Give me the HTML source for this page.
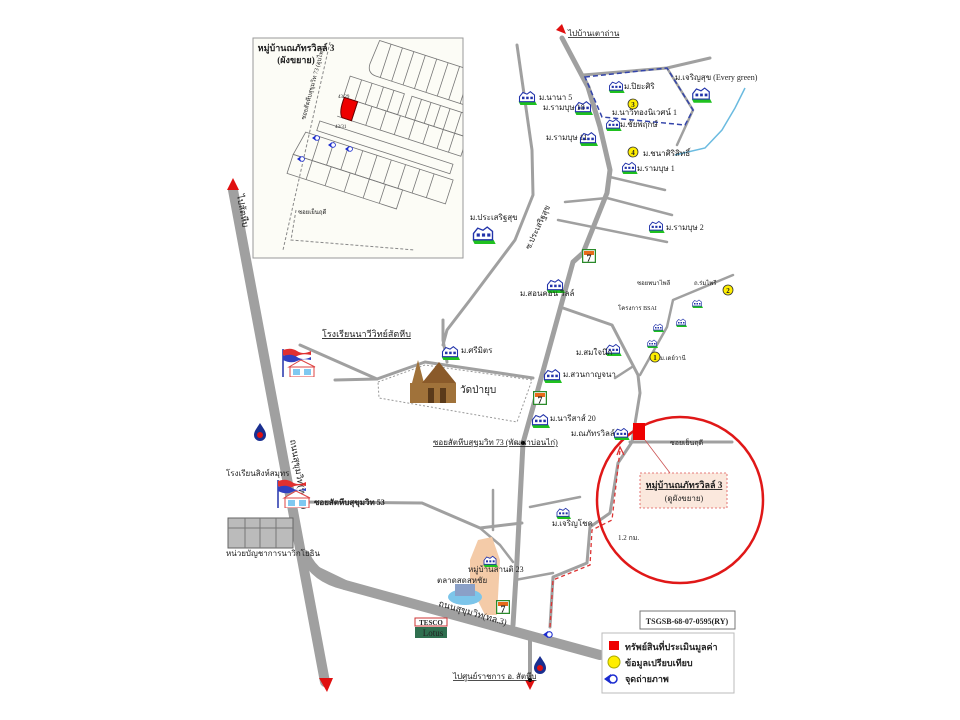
<!DOCTYPE html>
<html><head><meta charset="utf-8"><style>
html,body{margin:0;padding:0;background:#fff;width:960px;height:720px;overflow:hidden}
svg{display:block}
text{font-family:"Liberation Serif",serif;fill:#222}
</style></head><body>
<svg width="960" height="720" viewBox="0 0 960 720" xmlns="http://www.w3.org/2000/svg">
<defs>
<symbol id="h" viewBox="0 0 24 18">
<path d="M2 14 L22 14 L24 18 L4 18 Z" fill="#1fc11f"/>
<path d="M3 8 L7 3 L12 5 L16 2 L21 6 L21 14 L3 14 Z" fill="#fff" stroke="#2233aa" stroke-width="1.3"/>
<rect x="6" y="8" width="3" height="3" fill="#2233aa"/><rect x="11" y="8" width="3" height="3" fill="#2233aa"/><rect x="16" y="8" width="3" height="3" fill="#2233aa"/>
</symbol>
<symbol id="s7" viewBox="0 0 14 14">
<rect x="0.5" y="0.5" width="13" height="13" fill="#fff" stroke="#2a8a2a" stroke-width="1.5"/>
<rect x="2" y="2" width="10" height="4" fill="#e86a1a"/><text x="7" y="12.5" font-size="10" text-anchor="middle" fill="#d11" font-family="Liberation Sans" font-weight="bold">7</text>
</symbol>
<symbol id="cam" viewBox="0 0 14 10">
<path d="M0 5 L7 0 L7 10 Z" fill="#1a2bd0"/><circle cx="9" cy="5" r="4" fill="#fff" stroke="#1a2bd0" stroke-width="1.5"/>
</symbol>
<symbol id="gas" viewBox="0 0 12 18">
<path d="M6 0 C9 5 12 8 12 12 A6 6 0 0 1 0 12 C0 8 3 5 6 0 Z" fill="#1a2f90"/><circle cx="6" cy="12" r="3" fill="#e01010"/>
</symbol>
<symbol id="school" viewBox="0 0 36 30">
<line x1="2" y1="2" x2="2" y2="30" stroke="#2233aa" stroke-width="1.5"/>
<path d="M2 3 Q10 0 16 4 T30 4 L30 8 Q22 6 16 9 T2 8 Z" fill="#e03030"/>
<path d="M2 9 Q10 6 16 10 T30 10 L30 13 Q22 11 16 14 T2 13 Z" fill="#3040c0"/>
<path d="M8 20 L20 13 L34 20 Z" fill="#fff" stroke="#d44" stroke-width="1"/>
<rect x="9" y="20" width="24" height="10" fill="#fff" stroke="#d44"/>
<rect x="12" y="22" width="7" height="6" fill="#7fc8f0"/><rect x="23" y="22" width="7" height="6" fill="#7fc8f0"/>
</symbol>
</defs>

<g fill="none" stroke="#a0a0a0" stroke-linecap="round" stroke-linejoin="round">
<path d="M233 190 L325 682" stroke-width="10"/>
<path d="M305 555 Q315 578 345 585 L600 655" stroke-width="10"/>
<path d="M318 572 L345 585" stroke-width="10"/>
<path d="M562 38 L588 87 L600 127 L610 170 L607 193 L583 253 L573 262 L537 393 L523 443 L517 560 L513 625" stroke-width="5"/>
<path d="M530 640 L530 680" stroke-width="4"/>
<path d="M517 45 L532 150 L533 195 L515 240 L470 300 L447 330 L443 345" stroke-width="3"/>
<path d="M583 75 L667 68 L710 58" stroke-width="3"/>
<path d="M667 68 L693 110 L677 145" stroke-width="2.5"/>
<path d="M610 177 L665 190" stroke-width="2.5"/>
<path d="M565 202 L607 198 L672 215" stroke-width="2.5"/>
<path d="M558 220 L667 242" stroke-width="2.5"/>
<path d="M563 308 L612 325 L638 375 L640 393 L632 442 L618 463 L610 513 L590 527 L587 563 L553 577 L550 627" stroke-width="3"/>
<path d="M640 375 L667 327 L673 300 L733 275" stroke-width="2.5"/>
<path d="M615 378 L632 367" stroke-width="2.5"/>
<path d="M630 442 L732 442" stroke-width="3"/>
<path d="M335 380 L377 379 L425 362 L533 378" stroke-width="3"/>
<path d="M300 345 L377 379" stroke-width="3"/>
<path d="M443 320 L443 340 L447 362" stroke-width="3"/>
<path d="M300 502 L422 503 L480 528 L522 523" stroke-width="3"/>
<path d="M493 490 L493 530" stroke-width="2.5"/>
<path d="M480 528 L500 545 L513 562" stroke-width="2.5"/>
<path d="M515 580 L553 573" stroke-width="2.5"/>
<path d="M530 507 L580 497" stroke-width="2.5"/>
</g>
<path d="M585 77 L667 68 L693 110 L685 125 L602 117 Z" fill="none" stroke="#3344aa" stroke-width="1.5" stroke-dasharray="5 3"/>
<path d="M745 88 L735 108 L722 130 L705 148 L675 155" fill="none" stroke="#6bbbe0" stroke-width="1.5"/>
<path d="M378 382 L425 365 L532 380 L517 422 L379 398 Z" fill="none" stroke="#999" stroke-width="1" stroke-dasharray="2 2"/>
<path d="M478 540 L492 537 L500 560 L497 615 L485 615 L470 585 L470 560 Z" fill="#f4cba8"/>
<path d="M550 627 L553 580 L590 565 L592 530 L612 520 L620 450" fill="none" stroke="#d33" stroke-width="1.3" stroke-dasharray="4 3"/>
<path d="M617 455 L620 447 L624 455" fill="none" stroke="#d33" stroke-width="1.3"/>

<circle cx="680" cy="500" r="83" fill="none" stroke="#e01818" stroke-width="2.5"/>
<rect x="633" y="423" width="12" height="17" fill="#ee0000"/>
<line x1="645" y1="440" x2="670" y2="473" stroke="#c55" stroke-width="0.8"/>
<rect x="640" y="473" width="87" height="35" fill="#fbe8dd" stroke="#d55" stroke-width="0.8" stroke-dasharray="2 2"/>
<text x="684" y="488" font-size="9" text-anchor="middle" font-weight="bold" text-decoration="underline">หมู่บ้านณภัทรวิลล์ 3</text>
<text x="684" y="501" font-size="8" text-anchor="middle">(ดูผังขยาย)</text>

<path d="M227 190 L233 178 L239 190 Z" fill="#e01010"/>
<path d="M319 678 L327 692 L333 678 Z" fill="#e01010"/>
<path d="M556 30 L562 24 L566 34 Z" fill="#e01010"/>
<path d="M525 680 L530 690 L535 680 Z" fill="#e01010"/>
<circle cx="530" cy="680" r="2" fill="#000"/>
<circle cx="523" cy="443" r="2" fill="#000"/>

<use href="#h" x="517" y="90" width="20" height="15"/>
<use href="#h" x="573" y="100" width="20" height="15"/>
<use href="#h" x="578" y="131" width="20" height="15"/>
<use href="#h" x="607" y="80" width="18" height="13"/>
<use href="#h" x="604" y="118" width="18" height="13"/>
<use href="#h" x="690" y="86" width="22" height="17"/>
<use href="#h" x="620" y="161" width="18" height="13"/>
<use href="#h" x="647" y="220" width="18" height="13"/>
<use href="#h" x="470" y="225" width="26" height="19"/>
<use href="#h" x="545" y="278" width="20" height="15"/>
<use href="#h" x="604" y="343" width="18" height="13"/>
<use href="#h" x="542" y="368" width="20" height="15"/>
<use href="#h" x="530" y="413" width="20" height="15"/>
<use href="#h" x="612" y="427" width="18" height="13"/>
<use href="#h" x="440" y="345" width="20" height="15"/>
<use href="#h" x="555" y="507" width="16" height="12"/>
<use href="#h" x="482" y="555" width="16" height="12"/>
<use href="#h" x="652" y="323" width="12" height="9"/>
<use href="#h" x="675" y="318" width="12" height="9"/>
<use href="#h" x="691" y="299" width="12" height="9"/>
<use href="#h" x="646" y="339" width="12" height="9"/>

<g font-size="8">
<text x="539" y="100">ม.นานา 5</text>
<text x="543" y="110">ม.รามบุษ 18</text>
<text x="546" y="140">ม.รามบุษ 11</text>
<text x="624" y="89">ม.ปิยะศิริ</text>
<text x="612" y="115">ม.นาวีทองนิเวศน์ 1</text>
<text x="620" y="127">ม.ชัยพฤกษ์</text>
<text x="675" y="80">ม.เจริญสุข (Every green)</text>
<text x="643" y="156">ม.ชนาศิริสิทธิ์</text>
<text x="637" y="171">ม.รามบุษ 1</text>
<text x="666" y="230">ม.รามบุษ 2</text>
<text x="470" y="220">ม.ประเสริฐสุข</text>
<text x="520" y="296">ม.สอนคอน วิลล์</text>
<text x="576" y="355">ม.สมใจนึก</text>
<text x="563" y="377">ม.สวนกาญจนา</text>
<text x="550" y="421">ม.นารีสาส์ 20</text>
<text x="571" y="436">ม.ณภัทรวิลล์</text>
<text x="461" y="353">ม.ศรีมิตร</text>
<text x="552" y="526">ม.เจริญโชค</text>
<text x="468" y="572">หมู่บ้านสานติ 23</text>
<text x="460" y="393" font-size="10">วัดป่ายุบ</text>
<text x="433" y="445" text-decoration="underline">ซอยสัตหีบสุขุมวิท 73 (พัฒนาบ่อนไก่)</text>
<text x="568" y="36" text-decoration="underline">ไปบ้านเตาถ่าน</text>
<text x="322" y="337" font-size="9" text-decoration="underline">โรงเรียนนาวีวิทย์สัตหีบ</text>
<text x="226" y="476">โรงเรียนสิงห์สมุทร</text>
<text x="226" y="556">หน่วยบัญชาการนาวิกโยธิน</text>
<text x="314" y="505" font-weight="bold">ซอยสัตหีบสุขุมวิท 53</text>
<text x="437" y="583">ตลาดสดสหชัย</text>
<text x="453" y="679" text-decoration="underline">ไปศูนย์ราชการ อ. สัตหีบ</text>
<text x="618" y="540" fill="#c22" font-size="7">1.2 กม.</text>
<text x="670" y="445" font-size="7">ซอยเย็นฤดี</text>
<text x="637" y="285" font-size="6">ซอยพนาไพลี</text>
<text x="694" y="285" font-size="6">ถ.ร่มไพรี</text>
<text x="618" y="310" font-size="6">โครงการ BSAI</text>
<text x="660" y="360" font-size="6">ม.เดย์วานี</text>
<text x="438" y="606" font-size="9" transform="rotate(16 438 606)">ถนนสุขุมวิท(ทล.3)</text>
<text x="290" y="440" font-size="9" transform="rotate(80 290 440)">ถนนสุขุมวิท(ทล.3)</text>
<text x="237" y="195" font-size="9" transform="rotate(80 237 195)">ไปสัตหีบ</text>
<text x="530" y="250" font-size="8" transform="rotate(-65 530 250)">ซ.ประเสริฐสุข</text>
</g>
<g fill="#ffee00" stroke="#333" stroke-width="0.8">
<circle cx="633" cy="104" r="5"/><circle cx="633" cy="152" r="5"/><circle cx="728" cy="290" r="5"/><circle cx="655" cy="357" r="5"/>
</g>
<g font-size="7" text-anchor="middle" font-weight="bold"><text x="633" y="107">3</text><text x="633" y="155">4</text><text x="728" y="293">2</text><text x="655" y="360">1</text></g>

<use href="#s7" x="582" y="249" width="14" height="14"/>
<use href="#s7" x="533" y="391" width="14" height="14"/>
<use href="#s7" x="496" y="600" width="14" height="14"/>

<g>
<path d="M412 383 L418 360 L424 383 Z" fill="#a0723a"/>
<rect x="410" y="383" width="46" height="20" fill="#a0723a"/>
<path d="M422 383 L439 362 L456 383 Z" fill="#8a5a2a"/>
<rect x="428" y="388" width="6" height="15" fill="#5a3a1a"/><rect x="440" y="388" width="6" height="15" fill="#5a3a1a"/>
</g>
<use href="#gas" x="254" y="423" width="12" height="18"/>
<use href="#gas" x="534" y="656" width="12" height="18"/>
<use href="#school" x="281" y="347" width="36" height="30"/>
<use href="#school" x="276" y="478" width="36" height="30"/>
<rect x="228" y="518" width="65" height="30" fill="#bbb" stroke="#666"/>
<path d="M228 528 h65 M245 518 v30 M260 518 v30 M276 518 v30" stroke="#777"/>
<ellipse cx="465" cy="597" rx="17" ry="8" fill="#7cc5ea"/>
<rect x="455" y="584" width="20" height="12" fill="#8aa0c8"/>
<rect x="415" y="618" width="32" height="8" fill="#fff" stroke="#c33"/>
<text x="431" y="625" font-size="7" text-anchor="middle" fill="#c00" font-family="Liberation Sans" font-weight="bold">TESCO</text>
<rect x="415" y="627" width="32" height="11" fill="#2f6f4f"/>
<text x="433" y="636" font-size="9" text-anchor="middle" fill="#fff">Lotus</text>
<use href="#cam" x="543" y="631" width="10" height="7"/>

<!-- inset -->
<rect x="253" y="38" width="210" height="220" fill="#fcfcf6" stroke="#999"/>
<svg x="253" y="38" width="210" height="220" viewBox="253 38 210 220" overflow="hidden">
<text x="296" y="51" font-size="9" text-anchor="middle" fill="#d22" font-weight="bold">หมู่บ้านณภัทรวิลล์ 3</text>
<text x="296" y="63" font-size="9" text-anchor="middle" fill="#d22" font-weight="bold">(ผังขยาย)</text>
<path d="M330 42 L283 250" stroke="#888" stroke-dasharray="3 2" fill="none"/>
<path d="M296 210 L291 240 L415 250" stroke="#888" stroke-dasharray="3 2" fill="none"/>
<g transform="rotate(18 380 130)">
<g fill="none" stroke="#777" stroke-width="0.8">
<path d="M352 45 L470 45 L470 80 L360 80 Q350 80 350 70 Z"/>
<path d="M364 45 v35 M376 45 v35 M388 45 v35 M400 45 v35 M412 45 v35 M424 45 v35 M436 45 v35 M448 45 v35 M460 45 v35"/>
<path d="M335 88 L392 88 L392 110 L335 110 Z"/>
<path d="M347 88 v22 M358 88 v22 M370 88 v22 M381 88 v22"/>
<path d="M400 88 L465 88 L465 110 L400 110 Z"/>
<path d="M410 88 v22 M420 88 v22 M430 88 v22 M440 88 v22 M452 88 v22"/>
<path d="M335 110 L465 110 L465 130 L335 130"/>
<path d="M350 110 v20 M365 110 v20 M380 110 v20 M395 110 v20 M410 110 v20 M425 110 v20 M440 110 v20 M452 110 v20"/>
<path d="M320 140 L460 140 L460 150 L320 150 Z"/>
<path d="M310 155 L465 155 L465 180 L305 180 Z"/>
<path d="M325 155 v25 M340 155 v25 M355 155 v25 M370 155 v25 M385 155 v25 M400 155 v25 M415 155 v25 M430 155 v25 M445 155 v25"/>
<path d="M305 180 L420 180 L420 200 L305 200 Z M325 180 v20 M345 180 v20 M365 180 v20 M385 180 v20 M402 180 v20"/>
</g>
<path d="M336 110 L350 110 L350 130 L340 130 Q335 125 336 110 Z" fill="#ee0000" stroke="#600"/>
</g>
<g font-size="5"><text x="335" y="128">43/31</text><text x="338" y="98">43/29</text></g>
<use href="#cam" x="312" y="135" width="8" height="6"/>
<use href="#cam" x="328" y="142" width="8" height="6"/>
<use href="#cam" x="345" y="146" width="8" height="6"/>
<use href="#cam" x="297" y="156" width="8" height="6"/>
<text x="305" y="120" font-size="6" transform="rotate(-75 305 120)">ซอยสัตหีบสุขุมวิท 73 (อุบไพร)</text>
<text x="298" y="214" font-size="6">ซอยเย็นฤดี</text>
</svg>

<rect x="640" y="611" width="95" height="18" fill="#fff" stroke="#777"/>
<text x="687" y="624" font-size="8" text-anchor="middle" font-weight="bold">TSGSB-68-07-0595(RY)</text>
<rect x="602" y="633" width="132" height="60" fill="#fff" stroke="#bbb"/>
<rect x="609" y="641" width="10" height="9" fill="#ee0000"/>
<circle cx="614" cy="662" r="6" fill="#ffee00" stroke="#aa0"/>
<use href="#cam" x="604" y="674" width="14" height="10"/>
<g font-size="9" font-weight="bold"><text x="625" y="650">ทรัพย์สินที่ประเมินมูลค่า</text><text x="625" y="666">ข้อมูลเปรียบเทียบ</text><text x="625" y="682">จุดถ่ายภาพ</text></g>
</svg>
</body></html>
